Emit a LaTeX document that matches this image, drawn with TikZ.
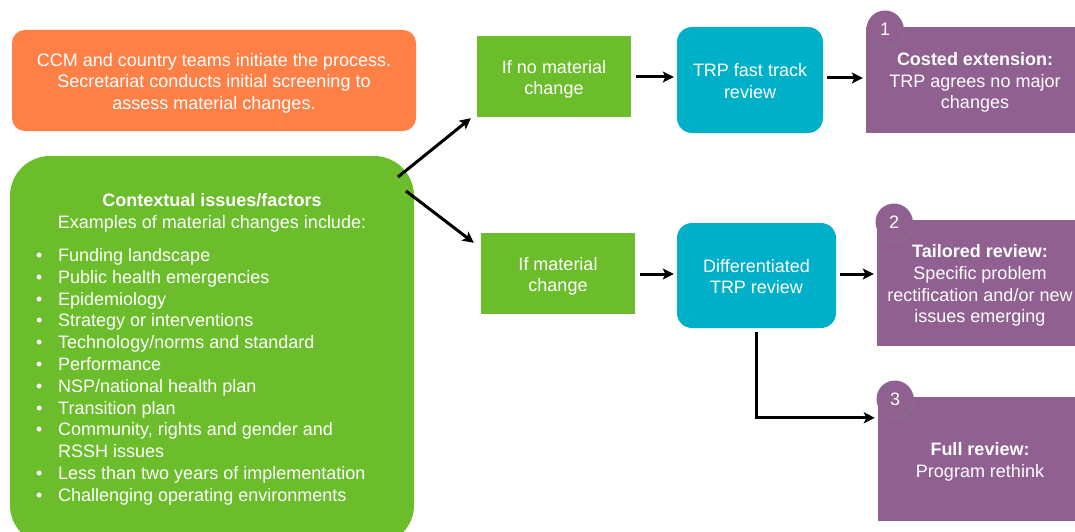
\documentclass[tikz,border=0pt]{standalone}
\usepackage{fontspec}
\setmainfont{Liberation Sans}
\usetikzlibrary{arrows.meta,calc,shadows}
\definecolor{corange}{RGB}{255,128,71}
\definecolor{cgreen}{RGB}{107,189,43}
\definecolor{ccyan}{RGB}{0,176,200}
\definecolor{cpurple}{RGB}{143,96,144}
\newcommand\lowtext[1]{\raisebox{-3pt}[\height][\depth]{\begin{tabular}{@{}c@{}}#1\end{tabular}}}
\begin{document}
\begin{tikzpicture}[x=1pt,y=-1pt,
  box/.style={inner sep=0pt, text=white, align=center, font=\fontsize{18}{21.6}\selectfont},
  obox/.style={box, fill=corange, rounded corners=13pt},
  gbox/.style={box, fill=cgreen},
  cbox/.style={box, fill=ccyan, rounded corners=15pt},
  pbox/.style={box, fill=cpurple},
  numc/.style={circle, fill=cpurple, minimum size=37pt, inner sep=0pt, text=white,
    font=\fontsize{18}{21.6}\selectfont,
    drop shadow={opacity=0.45, shadow xshift=1pt, shadow yshift=-1.5pt}},
  txt/.style={inner sep=0pt, text=white, font=\fontsize{18}{21.8}\selectfont},
  arr/.style={line width=3pt, -{Stealth[length=11pt,width=11pt,inset=2.5pt]}}]
\useasboundingbox (0,0) rectangle (1075,532);

% boxes
\node[obox, minimum width=404pt, minimum height=101pt] (init) at (214,80.5)
  {\lowtext{CCM and country teams initiate the process.\\Secretariat conducts initial screening to\\assess material changes.}};
\node[gbox, rounded corners=40pt, minimum width=404pt, minimum height=389pt] (ctx) at (212,350.5) {};
\node[txt, anchor=base] (ctxtitle) at (212,206.5) {\textbf{Contextual issues/factors}};
\node[txt, anchor=base] (ctxsub) at (212,228.5) {Examples of material changes include:};
\node[txt, anchor=base west] (ctxlist) at (36,261.5) {%
  \begin{tabular}[t]{@{}p{22pt}@{}l@{}}
  • & Funding landscape\\
  • & Public health emergencies\\
  • & Epidemiology\\
  • & Strategy or interventions\\
  • & Technology/norms and standard\\
  • & Performance\\
  • & NSP/national health plan\\
  • & Transition plan\\
  • & Community, rights and gender and\\
    & RSSH issues\\
  • & Less than two years of implementation\\
  • & Challenging operating environments
  \end{tabular}};

\node[gbox, minimum width=154pt, minimum height=81pt] (nomat) at (554,76.5) {\lowtext{If no material\\change}};
\node[cbox, minimum width=146pt, minimum height=106pt] (fast) at (750,80) {\lowtext{TRP fast track\\review}};
\node[pbox, minimum width=218pt, minimum height=106pt] (p1) at (975,80)
  {\lowtext{\textbf{Costed extension:}\\TRP agrees no major\\changes}};

\node[gbox, minimum width=154pt, minimum height=81pt] (mat) at (558,273.5) {\lowtext{If material\\change}};
\node[cbox, minimum width=159pt, minimum height=105pt] (diff) at (756.5,275.5) {\lowtext{Differentiated\\TRP review}};
\node[pbox, minimum width=206pt, minimum height=126pt] (p2) at (980,283)
  {\lowtext{\textbf{Tailored review:}\\Specific problem\\rectification and/or new\\issues emerging}};
\node[pbox, minimum width=204pt, minimum height=124pt] (p3) at (980,459)
  {\lowtext{\textbf{Full review:}\\Program rethink}};

\node[numc] (n1) at (885,29) {1};
\node[numc] (n2) at (894,222) {2};
\node[numc] (n3) at (895,399) {3};

% connectors
\coordinate (a1s) at (398,177);
\coordinate (a1e) at ($(nomat.south west)+(-6,1)$);
\coordinate (a2s) at (406,191);
\coordinate (a2e) at ($(mat.north west)+(-7,10)$);
\draw[arr] (a1s) -- (a1e);
\draw[arr] (a2s) -- (a2e);
\draw[arr] ([xshift=5pt]nomat.east |- 0,77) -- ([xshift=-3pt]fast.west |- 0,77);
\draw[arr] ([xshift=4pt]fast.east |- 0,78) -- ([xshift=-3pt]p1.west |- 0,78);
\draw[arr] ([xshift=5pt]mat.east |- 0,274) -- ([xshift=-3pt]diff.west |- 0,274);
\draw[arr] ([xshift=4pt]diff.east |- 0,274) -- ([xshift=-3pt]p2.west |- 0,274);
\coordinate (p3in) at ($(p3.north west)+(-3,21)$);
\draw[arr] ([yshift=-4pt]diff.south) |- (p3in);
\end{tikzpicture}
\end{document}
